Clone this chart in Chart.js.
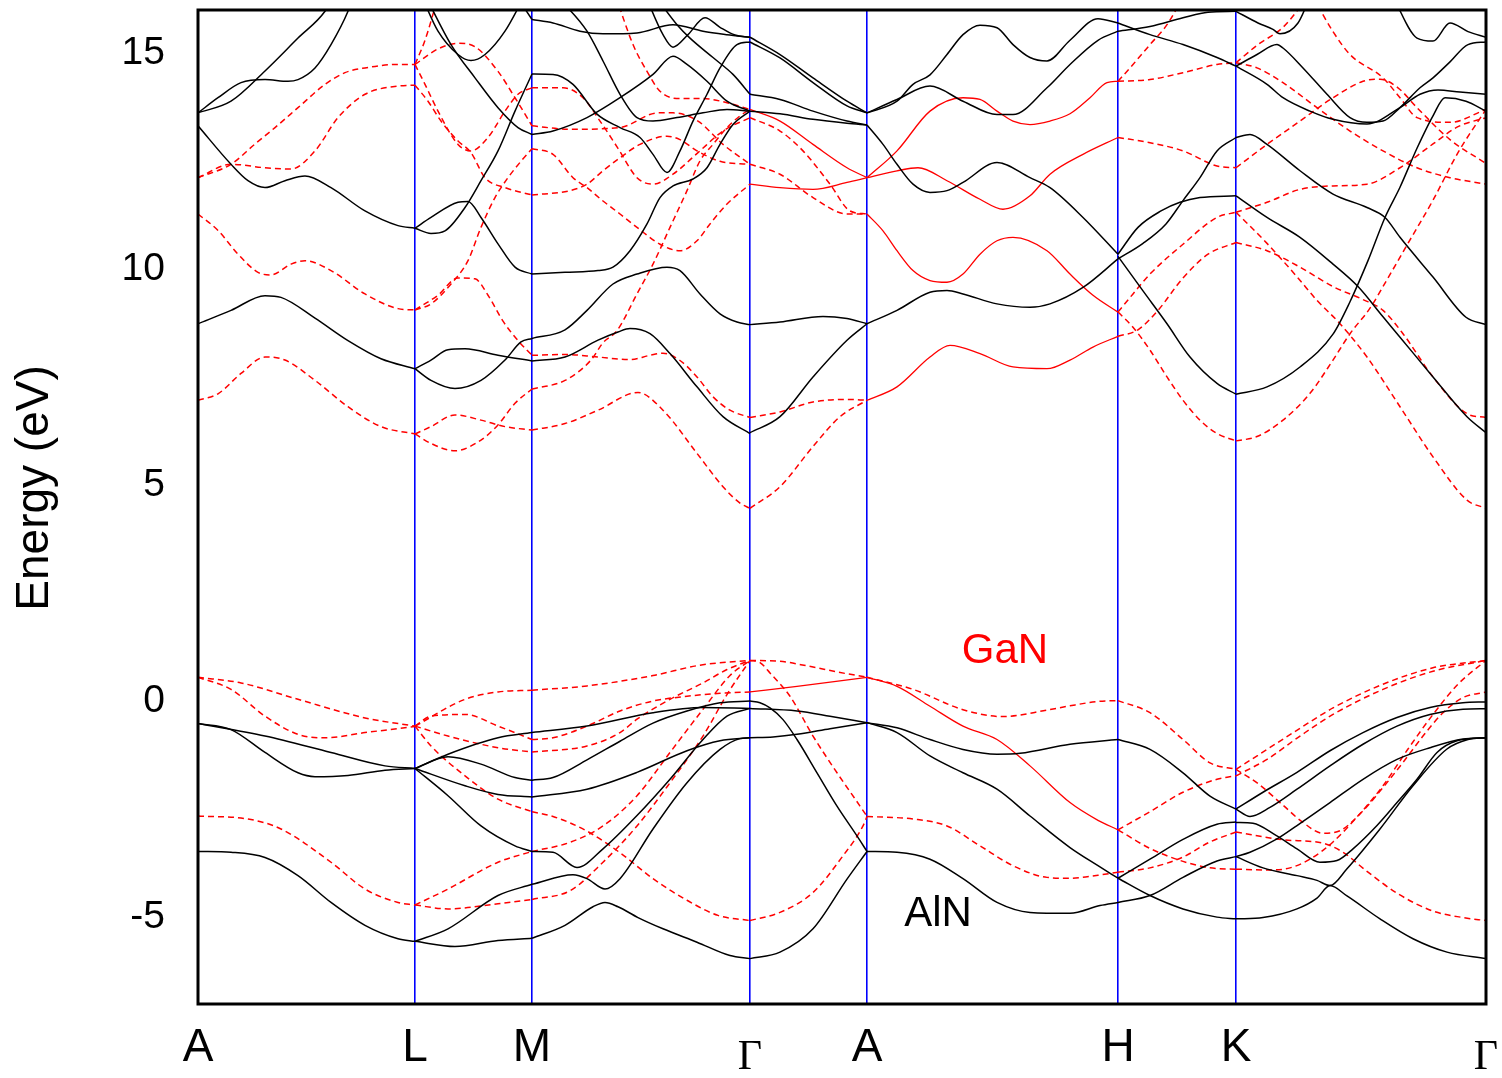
<!DOCTYPE html>
<html lang="en">
<head>
<meta charset="UTF-8" />
<title>AlN / GaN band structure</title>
<script src="https://cdn.jsdelivr.net/npm/chart.js"></script>
<style>
body { margin: 0; background: #fff; }
#wrap { width: 1502px; height: 1078px; }
</style>
</head>
<body>
<div id="wrap"><canvas id="bands" width="1502" height="1078"></canvas></div>

<script>
// k-path: high-symmetry points (path distance) and their labels
const kPos = [0, 217, 334, 552, 669, 920, 1038, 1288];
const kLabel = ['A', 'L', 'M', 'Γ', 'A', 'H', 'K', 'Γ'];
const energyTicks = [-5, 0, 5, 10, 15];

// material tags inside the plot
const tagText = ['GaN', 'AlN'];
const tagK = [807, 740];
const tagE = [1.15, -4.92];
const tagColor = ['#ff0000', '#000000'];

// AlN bands, [k, E(eV)] per segment
const alnAL = [
  [[0,-0.51],[67,-0.8],[133,-1.18],[187,-1.49],[217,-1.55]],
  [[0,-0.51],[33,-0.65],[67,-1.18],[100,-1.65],[117,-1.74],[150,-1.71],[187,-1.59],[217,-1.55]],
  [[0,-3.47],[33,-3.49],[67,-3.61],[100,-4.03],[133,-4.65],[167,-5.18],[200,-5.49],[217,-5.55]],
  [[0,8.74],[33,9.05],[67,9.39],[83,9.35],[117,8.87],[150,8.35],[183,7.93],[217,7.7]],
  [[0,13.32],[33,12.43],[50,12.05],[67,11.89],[87,12.05],[107,12.16],[133,11.89],[167,11.35],[200,11.01],[217,10.95]],
  [[0,13.62],[20,13.97],[43,14.32],[67,14.39],[90,14.35],[100,14.39],[117,14.66],[133,15.2],[150,15.97],[155,16.3]],
  [[0,13.62],[33,13.89],[67,14.59],[100,15.35],[127,15.97],[135,16.3]]
];
const alnLM = [
  [[217,-1.55],[250,-1.22],[300,-0.84],[334,-0.72]],
  [[217,-1.55],[250,-1.28],[283,-1.45],[317,-1.76],[334,-1.82]],
  [[217,-1.55],[267,-1.95],[300,-2.15],[334,-2.21]],
  [[217,-1.55],[250,-2.18],[283,-2.88],[317,-3.34],[334,-3.47]],
  [[217,-5.55],[257,-5.67],[300,-5.53],[334,-5.48]],
  [[217,-5.55],[250,-5.26],[300,-4.49],[334,-4.23]],
  [[217,7.7],[233,7.9],[250,8.14],[267,8.16],[300,8.01],[334,7.88]],
  [[217,7.7],[233,7.43],[257,7.24],[283,7.43],[307,7.9],[323,8.32],[334,8.4]],
  [[217,10.95],[233,11.2],[260,11.55],[270,11.57],[283,11.2],[300,10.59],[317,10.05],[334,9.89]],
  [[217,10.95],[233,10.83],[247,10.89],[267,11.43],[283,12.05],[300,12.74],[317,13.66],[334,14.52]],
  [[224,16.3],[240,15.51],[260,14.97],[273,14.83],[287,14.97],[307,15.51],[326,16.3]],
  [[228,16.3],[253,15.2],[277,14.43],[300,13.74],[320,13.28],[334,13.12]],
  [[322,16.2],[334,15.78]]
];
const alnMG = [
  [[334,-0.72],[389,-0.57],[455,-0.26],[505,-0.14],[552,-0.16]],
  [[334,-1.82],[355,-1.76],[389,-1.35],[422,-0.92],[455,-0.5],[489,-0.22],[522,-0.03],[552,0.01]],
  [[334,-2.21],[389,-2.03],[439,-1.64],[489,-1.14],[522,-0.91],[552,-0.84]],
  [[334,-3.47],[355,-3.49],[379,-3.84],[405,-3.41],[439,-2.64],[472,-1.8],[505,-0.88],[529,-0.34],[552,-0.16]],
  [[334,-4.23],[375,-4.01],[389,-4.1],[407,-4.34],[422,-4.1],[455,-2.95],[489,-1.88],[522,-1.11],[542,-0.86],[552,-0.84]],
  [[334,-5.48],[367,-5.18],[395,-4.75],[407,-4.65],[420,-4.75],[440,-5.0],[465,-5.26],[499,-5.57],[532,-5.88],[552,-5.95]],
  [[334,7.88],[367,7.97],[400,8.36],[420,8.55],[432,8.63],[452,8.51],[472,8.05],[499,7.28],[525,6.59],[552,6.2]],
  [[334,8.4],[367,8.6],[389,9.05],[415,9.66],[439,9.89],[469,10.05],[482,9.97],[502,9.43],[522,8.97],[539,8.78],[552,8.72]],
  [[334,9.89],[367,9.93],[400,9.97],[415,10.05],[432,10.43],[449,11.05],[462,11.66],[475,11.93],[495,12.09],[509,12.35],[522,12.89],[535,13.35],[552,13.66]],
  [[334,13.12],[355,13.2],[389,13.51],[422,13.97],[455,14.51],[475,14.93],[489,14.74],[509,14.35],[529,13.89],[552,13.66]],
  [[334,14.52],[355,14.51],[375,14.28],[399,13.59],[422,13.28],[442,13.05],[455,12.66],[469,12.24],[482,12.74],[495,13.43],[509,14.05],[522,14.66],[539,15.2],[552,15.26]],
  [[334,15.78],[355,15.7],[382,15.51],[405,15.45],[439,15.47],[475,15.66],[505,15.51],[529,15.43],[552,15.37]],
  [[360,16.3],[389,15.51],[405,14.82],[422,14.05],[439,13.51],[455,13.43],[479,13.51],[505,13.62],[529,13.7],[552,13.66]],
  [[448,16.3],[465,15.43],[475,15.14],[490,15.43],[507,15.82],[522,15.6],[537,15.42],[552,15.37]],
  [[458,16.3],[479,15.66],[492,15.35],[515,14.9],[535,14.51],[552,14.05]]
];
const alnGA = [
  [[552,0.01],[562,-0.03],[572,-0.15],[585,-0.42],[599,-0.88],[619,-1.65],[639,-2.42],[659,-3.11],[669,-3.47]],
  [[552,-0.16],[599,-0.22],[632,-0.34],[669,-0.49]],
  [[552,-0.84],[575,-0.82],[599,-0.76],[632,-0.63],[669,-0.49]],
  [[552,-5.95],[582,-5.8],[615,-5.26],[649,-4.11],[669,-3.47]],
  [[552,6.22],[582,6.59],[615,7.51],[649,8.36],[669,8.74]],
  [[552,8.72],[582,8.78],[625,8.91],[649,8.86],[669,8.74]],
  [[552,13.66],[582,13.6],[615,13.47],[649,13.38],[669,13.34]],
  [[552,14.05],[582,13.93],[615,13.66],[649,13.43],[669,13.34]],
  [[552,15.26],[582,14.89],[615,14.32],[649,13.78],[669,13.62]],
  [[552,15.37],[582,14.97],[615,14.43],[649,13.89],[669,13.62]]
];
const alnAH = [
  [[669,-0.49],[699,-0.61],[732,-0.88],[765,-1.11],[799,-1.22],[822,-1.2],[872,-0.99],[920,-0.88]],
  [[669,-0.49],[699,-0.72],[732,-1.26],[765,-1.65],[799,-2.03],[832,-2.65],[872,-3.38],[900,-3.8],[920,-4.09]],
  [[669,-3.47],[699,-3.49],[732,-3.65],[765,-4.1],[799,-4.65],[832,-4.88],[872,-4.9],[902,-4.72],[920,-4.65]],
  [[669,8.74],[699,9.05],[732,9.47],[749,9.51],[765,9.43],[799,9.2],[832,9.12],[852,9.2],[885,9.58],[920,10.24]],
  [[669,13.34],[685,12.89],[699,12.43],[715,11.97],[732,11.78],[749,11.82],[765,12.01],[799,12.47],[832,12.12],[852,11.89],[885,11.2],[920,10.35]],
  [[669,13.62],[699,13.93],[732,14.24],[765,13.89],[799,13.58],[815,13.58],[849,14.2],[872,14.74],[900,15.3],[920,15.51]],
  [[669,13.62],[699,13.89],[715,14.28],[732,14.5],[749,14.97],[765,15.43],[782,15.65],[799,15.59],[815,15.2],[832,14.9],[849,14.82],[872,15.3],[900,15.8],[920,15.7]]
];
const alnHK = [
  [[920,-0.88],[952,-1.11],[985,-1.65],[1012,-2.19],[1038,-2.49]],
  [[920,-4.09],[952,-3.65],[985,-3.19],[1019,-2.84],[1038,-2.79]],
  [[920,-4.09],[952,-4.49],[985,-4.8],[1019,-4.99],[1038,-5.03]],
  [[920,-4.65],[952,-4.49],[985,-4.07],[1019,-3.69],[1038,-3.59]],
  [[920,10.3],[945,9.5],[969,8.74],[992,7.97],[1019,7.36],[1038,7.11]],
  [[920,10.35],[940,10.97],[963,11.35],[982,11.55],[1002,11.66],[1038,11.7]],
  [[920,10.24],[945,10.6],[968,11.05],[985,11.59],[1002,12.12],[1019,12.74],[1038,13.05]],
  [[920,15.7],[952,15.43],[985,15.2],[1019,14.9],[1038,14.7]],
  [[920,15.51],[952,15.62],[985,15.82],[1010,15.95],[1038,15.97]]
];
const alnKG = [
  [[1038,-2.49],[1065,-2.1],[1099,-1.64],[1132,-1.14],[1165,-0.72],[1199,-0.37],[1232,-0.14],[1265,-0.03],[1288,-0.01]],
  [[1038,-2.49],[1052,-2.66],[1072,-2.45],[1099,-2.03],[1132,-1.49],[1165,-0.99],[1199,-0.57],[1232,-0.3],[1265,-0.18],[1288,-0.17]],
  [[1038,-2.8],[1055,-2.82],[1078,-3.1],[1099,-3.41],[1122,-3.72],[1139,-3.68],[1155,-3.41],[1179,-2.87],[1199,-2.34],[1219,-1.8],[1239,-1.18],[1259,-0.91],[1288,-0.84]],
  [[1038,-3.59],[1052,-3.49],[1079,-3.18],[1099,-2.87],[1132,-2.34],[1165,-1.8],[1199,-1.34],[1232,-1.07],[1265,-0.87],[1288,-0.84]],
  [[1038,-3.59],[1065,-3.85],[1099,-4.03],[1119,-4.14],[1132,-4.26],[1149,-3.87],[1182,-2.95],[1215,-1.95],[1249,-1.1],[1270,-0.88],[1288,-0.84]],
  [[1038,-5.03],[1065,-5.0],[1099,-4.8],[1119,-4.55],[1132,-4.26],[1149,-4.5],[1182,-5.03],[1215,-5.49],[1249,-5.8],[1288,-5.95]],
  [[1038,7.11],[1069,7.28],[1102,7.74],[1135,8.5],[1152,9.25],[1170,10.2],[1187,11.2],[1202,11.9],[1219,12.8],[1235,13.55],[1247,13.97],[1268,13.89],[1288,13.66]],
  [[1038,11.7],[1069,11.2],[1102,10.74],[1135,10.12],[1160,9.6],[1185,8.9],[1202,8.43],[1235,7.51],[1269,6.59],[1288,6.22]],
  [[1038,13.05],[1052,13.12],[1069,12.89],[1102,12.28],[1135,11.74],[1169,11.43],[1187,11.2],[1202,10.74],[1235,9.82],[1268,8.89],[1288,8.72]],
  [[1038,14.7],[1059,14.97],[1079,15.2],[1085,15.12],[1105,14.66],[1129,14.05],[1152,13.51],[1169,13.4],[1185,13.43],[1202,13.74],[1222,14.2],[1235,14.43],[1252,14.8],[1270,15.2],[1288,15.26]],
  [[1038,14.7],[1069,14.28],[1085,13.97],[1112,13.66],[1135,13.47],[1169,13.36],[1202,13.74],[1222,14.05],[1240,14.15],[1262,14.1],[1288,14.05]],
  [[1038,15.97],[1060,15.7],[1075,15.55],[1082,15.45],[1100,15.7],[1112,16.3]],
  [[1195,16.3],[1219,15.35],[1235,15.28],[1252,15.7],[1270,15.5],[1288,15.37]]
];

// GaN bands drawn dashed, per segment
const ganAL = [
  [[0,0.56],[43,0.43],[100,0.05],[167,-0.38],[217,-0.57]],
  [[0,0.56],[33,0.28],[67,-0.34],[100,-0.76],[127,-0.84],[167,-0.72],[217,-0.58]],
  [[0,-2.65],[50,-2.72],[83,-2.95],[133,-3.72],[167,-4.34],[200,-4.65],[217,-4.71]],
  [[0,6.97],[20,7.12],[43,7.59],[67,7.97],[87,7.9],[117,7.43],[150,6.82],[183,6.36],[217,6.19]],
  [[0,11.28],[20,10.9],[40,10.35],[60,9.93],[73,9.87],[93,10.12],[107,10.2],[133,9.97],[167,9.43],[200,9.09],[217,9.06]],
  [[0,12.12],[33,12.43],[57,12.9],[77,13.28],[100,13.74],[127,14.28],[147,14.55],[167,14.66],[200,14.74],[217,14.74]],
  [[0,12.12],[33,12.43],[67,12.35],[93,12.32],[117,12.74],[140,13.51],[167,14.05],[200,14.24],[217,14.26]]
];
const ganLM = [
  [[217,-0.57],[267,0.05],[300,0.22],[334,0.26]],
  [[217,-0.57],[233,-0.34],[267,-0.3],[300,-0.57],[334,-0.88]],
  [[217,-0.57],[250,-0.8],[300,-1.07],[334,-1.17]],
  [[217,-0.57],[233,-1.03],[267,-1.72],[300,-2.26],[334,-2.55]],
  [[217,-4.71],[250,-4.34],[300,-3.72],[334,-3.47]],
  [[217,-4.71],[250,-4.8],[300,-4.68],[334,-4.58]],
  [[217,6.19],[233,6.36],[257,6.63],[283,6.51],[307,6.36],[334,6.28]],
  [[217,6.19],[233,5.97],[257,5.8],[283,6.05],[300,6.4],[317,6.9],[334,7.23]],
  [[217,9.06],[240,9.4],[260,9.8],[277,9.78],[290,9.4],[305,8.8],[320,8.35],[334,8.01]],
  [[217,9.06],[233,9.2],[253,9.66],[270,10.2],[283,10.97],[297,11.66],[310,12.12],[323,12.5],[334,12.79]],
  [[217,14.26],[230,13.89],[243,13.43],[260,12.97],[273,12.7],[287,12.12],[307,11.89],[334,11.72]],
  [[217,14.74],[227,14.28],[240,13.66],[260,12.89],[273,12.74],[290,13.05],[307,13.66],[320,14.05],[334,14.2]],
  [[217,14.74],[240,15.1],[260,15.23],[277,15.15],[300,14.58],[317,13.97],[334,13.32]],
  [[217,14.74],[227,15.3],[240,16.3]]
];
const ganMG = [
  [[334,0.26],[389,0.36],[455,0.6],[502,0.84],[552,0.95]],
  [[334,-0.88],[355,-0.84],[389,-0.57],[422,-0.22],[455,0.01],[489,0.12],[522,0.19],[552,0.22]],
  [[334,-1.17],[389,-1.03],[422,-0.72],[439,-0.41],[472,0.05],[505,0.43],[529,0.74],[552,0.95]],
  [[334,-2.55],[355,-2.66],[389,-3.0],[422,-3.5],[455,-4.1],[489,-4.6],[520,-4.95],[552,-5.07]],
  [[334,-3.47],[372,-3.26],[405,-2.88],[439,-2.18],[472,-1.18],[505,-0.18],[532,0.6],[552,0.95]],
  [[334,-4.58],[372,-4.38],[405,-3.72],[439,-2.88],[472,-1.88],[505,-0.8],[530,0.2],[552,0.95]],
  [[334,6.28],[367,6.43],[400,6.74],[440,7.15],[465,6.74],[499,5.74],[525,4.97],[542,4.59],[552,4.47]],
  [[334,8.01],[367,8.03],[400,7.97],[432,7.91],[452,8.01],[465,8.06],[482,7.89],[499,7.51],[515,7.05],[532,6.74],[552,6.57]],
  [[334,7.23],[367,7.43],[393,7.9],[405,8.3],[419,8.58],[439,9.43],[455,10.12],[472,10.97],[489,11.82],[502,12.51],[515,12.89],[529,13.28],[542,13.55],[552,13.7]],
  [[334,12.79],[355,12.66],[375,12.12],[389,11.89],[405,11.58],[422,11.28],[439,10.97],[462,10.58],[482,10.43],[499,10.66],[512,11.05],[529,11.51],[552,11.97]],
  [[334,11.72],[372,11.82],[389,11.97],[405,12.28],[422,12.58],[442,12.89],[469,13.08],[482,13.0],[499,12.74],[522,12.5],[552,12.43]],
  [[334,13.32],[372,13.24],[422,13.28],[460,13.62],[475,13.62],[500,13.43],[525,12.89],[552,12.43]],
  [[334,14.2],[365,14.2],[385,13.97],[402,13.43],[420,12.8],[439,12.12],[455,11.97],[475,12.2],[500,12.7],[525,13.2],[552,13.51]],
  [[418,16.3],[435,15.2],[449,14.58],[462,14.12],[482,13.95],[505,13.95],[530,13.85],[552,13.7]]
];
const ganGA = [
  [[552,0.95],[582,0.93],[610,0.82],[640,0.68],[669,0.56]],
  [[552,0.95],[562,0.9],[572,0.66],[592,0.12],[615,-0.8],[639,-1.65],[662,-2.42],[669,-2.66]],
  [[552,-5.07],[582,-4.88],[615,-4.42],[645,-3.57],[665,-2.88],[669,-2.66]],
  [[552,4.47],[582,4.97],[615,5.9],[642,6.59],[669,6.97]],
  [[552,6.57],[582,6.7],[615,6.93],[649,6.99],[669,6.97]],
  [[552,12.43],[582,12.2],[615,11.66],[649,11.28],[669,11.28]],
  [[552,13.51],[582,13.2],[605,12.74],[632,11.97],[652,11.35],[669,11.28]]
];
const ganAH = [
  [[669,0.56],[715,0.28],[765,-0.19],[805,-0.35],[849,-0.2],[872,-0.1],[900,0.0],[920,0.02]],
  [[669,-2.66],[715,-2.72],[749,-2.88],[782,-3.34],[815,-3.8],[849,-4.07],[872,-4.09],[900,-4.02],[920,-3.95]]
];
const ganHK = [
  [[920,0.02],[952,-0.26],[985,-0.88],[1012,-1.42],[1038,-1.57]],
  [[920,-2.97],[952,-2.55],[985,-2.1],[1019,-1.8],[1038,-1.72]],
  [[920,-2.97],[952,-3.4],[985,-3.7],[1012,-3.85],[1038,-3.88]],
  [[920,-3.95],[952,-3.85],[985,-3.6],[1012,-3.25],[1038,-3.02]],
  [[920,8.45],[940,8.6],[960,9.05],[985,9.8],[1010,10.35],[1038,10.62]],
  [[920,9.01],[935,8.66],[952,8.13],[969,7.51],[985,6.97],[1002,6.51],[1019,6.2],[1038,6.03]],
  [[920,9.01],[935,9.43],[952,9.89],[985,10.58],[1019,11.2],[1038,11.32]],
  [[920,13.05],[952,12.93],[985,12.74],[1019,12.39],[1038,12.35]],
  [[920,14.35],[952,14.39],[985,14.55],[1019,14.74],[1038,14.78]],
  [[920,14.35],[935,14.74],[952,15.2],[969,15.66],[985,16.3]]
];
const ganKG = [
  [[1038,-1.57],[1069,-1.11],[1100,-0.65],[1135,-0.15],[1185,0.4],[1235,0.78],[1288,0.95]],
  [[1038,-1.72],[1069,-1.34],[1102,-0.8],[1135,-0.3],[1185,0.28],[1235,0.7],[1288,0.95]],
  [[1038,-1.57],[1060,-1.9],[1085,-2.4],[1105,-2.8],[1125,-3.05],[1142,-2.99],[1165,-2.53],[1185,-1.99],[1205,-1.41],[1225,-0.8],[1245,-0.26],[1265,0.09],[1288,0.22]],
  [[1038,-3.02],[1085,-3.2],[1125,-3.28],[1145,-3.49],[1170,-3.95],[1200,-4.45],[1235,-4.85],[1265,-5.0],[1288,-5.07]],
  [[1038,-3.88],[1070,-3.9],[1092,-3.85],[1112,-3.65],[1135,-3.25],[1158,-2.7],[1185,-1.95],[1210,-1.1],[1235,-0.3],[1260,0.4],[1288,0.95]],
  [[1038,6.03],[1059,6.13],[1085,6.51],[1112,7.13],[1135,7.9],[1152,8.51],[1172,9.1],[1190,9.8],[1210,10.6],[1235,11.6],[1260,12.7],[1288,13.7]],
  [[1038,10.62],[1069,10.43],[1102,10.05],[1135,9.6],[1165,9.3],[1185,9.05],[1205,8.51],[1235,7.51],[1269,6.66],[1288,6.57]],
  [[1038,11.32],[1069,10.6],[1100,9.8],[1119,9.28],[1142,8.74],[1169,7.97],[1202,6.82],[1235,5.66],[1269,4.66],[1288,4.47]],
  [[1038,11.32],[1069,11.55],[1102,11.85],[1135,11.93],[1169,11.97],[1202,12.35],[1235,12.9],[1260,13.3],[1288,13.51]],
  [[1038,12.35],[1069,12.89],[1102,13.43],[1135,13.97],[1165,14.35],[1182,14.4],[1200,14.2],[1219,13.74],[1252,13.0],[1288,12.45]],
  [[1038,14.78],[1059,14.66],[1085,14.32],[1119,13.74],[1152,13.2],[1185,12.74],[1219,12.35],[1252,12.12],[1288,11.97]],
  [[1038,14.78],[1060,15.2],[1085,15.6],[1110,16.3]],
  [[1115,16.3],[1135,15.5],[1152,14.97],[1185,14.43],[1202,13.97],[1219,13.51],[1252,13.4],[1288,13.7]]
];
// GaN bands that read as solid lines (degenerate pairs)
const ganSolid = [
  [[552,0.22],[599,0.35],[640,0.47],[669,0.56]],
  [[669,0.56],[699,0.35],[732,-0.11],[765,-0.57],[799,-0.88],[832,-1.49],[872,-2.34],[900,-2.75],[920,-2.97]],
  [[552,11.97],[582,11.89],[615,11.85],[649,12.01],[669,12.12]],
  [[552,13.7],[582,13.43],[615,12.89],[649,12.35],[669,12.12]],
  [[669,6.97],[699,7.28],[732,7.97],[752,8.24],[782,8.05],[815,7.74],[849,7.7],[872,7.9],[895,8.2],[920,8.45]],
  [[669,11.28],[685,10.89],[699,10.43],[715,9.97],[732,9.74],[749,9.7],[765,9.89],[782,10.35],[799,10.66],[815,10.74],[849,10.43],[872,9.89],[895,9.4],[920,9.01]],
  [[669,12.12],[699,12.28],[720,12.35],[749,12.05],[782,11.62],[805,11.39],[832,11.7],[852,12.2],[885,12.66],[920,13.05]],
  [[669,12.12],[699,12.74],[732,13.66],[765,13.97],[782,13.93],[799,13.66],[815,13.43],[832,13.35],[852,13.43],[872,13.6],[892,13.97],[909,14.32],[920,14.35]]
];

const SANS = '"Liberation Sans", Arial, sans-serif';
const SERIF = '"Liberation Serif", "Times New Roman", serif';

const alnStyle = { borderColor: '#000000', borderWidth: 1.5 };
const ganDashStyle = { borderColor: '#ff0000', borderWidth: 1.5, borderDash: [6, 4] };
const ganSolidStyle = { borderColor: '#ff0000', borderWidth: 1.3 };

const datasets = [];
function addCurves(curves, style) {
  curves.forEach(c => {
    datasets.push(Object.assign({
      data: c.map(([k, e]) => ({ x: k, y: e })),
      pointRadius: 0,
      fill: false,
      cubicInterpolationMode: 'monotone'
    }, style));
  });
}
[alnAL, alnLM, alnMG, alnGA, alnAH, alnHK, alnKG].forEach(s => addCurves(s, alnStyle));
[ganAL, ganLM, ganMG, ganGA, ganAH, ganHK, ganKG].forEach(s => addCurves(s, ganDashStyle));
addCurves(ganSolid, ganSolidStyle);

// thick frame, the rotated axis title and the two material tags
const frameAndTags = {
  id: 'frameAndTags',
  afterDatasetsDraw(chart) {
    const { ctx, chartArea: a, scales: { x, y } } = chart;
    ctx.save();
    ctx.strokeStyle = '#000';
    ctx.lineWidth = 3;
    ctx.strokeRect(a.left, a.top, a.right - a.left, a.bottom - a.top);

    ctx.textAlign = 'center';
    ctx.textBaseline = 'middle';
    ctx.font = '42px ' + SANS;
    tagText.forEach((t, i) => {
      ctx.fillStyle = tagColor[i];
      ctx.fillText(t, x.getPixelForValue(tagK[i]), y.getPixelForValue(tagE[i]));
    });

    ctx.fillStyle = '#000';
    ctx.font = '46px ' + SANS;
    ctx.translate(35, 488);
    ctx.rotate(-Math.PI / 2);
    ctx.fillText('Energy (eV)', 0, 0);
    ctx.restore();
  }
};

new Chart(document.getElementById('bands').getContext('2d'), {
  type: 'line',
  data: { datasets },
  plugins: [frameAndTags],
  options: {
    responsive: false,
    animation: false,
    devicePixelRatio: 1,
    layout: { padding: { top: 10, right: 16, left: 0, bottom: 0 } },
    plugins: { legend: { display: false }, tooltip: { enabled: false } },
    scales: {
      x: {
        type: 'linear',
        min: 0,
        max: 1288,
        afterBuildTicks: s => { s.ticks = kPos.map(v => ({ value: v })); },
        afterFit: s => { s.height = 74; s.paddingLeft = 0; s.paddingRight = 0; },
        border: { display: false },
        grid: {
          drawTicks: false,
          lineWidth: 1.6,
          color: c => (c.index > 0 && c.index < kPos.length - 1) ? '#0000ff' : 'rgba(0,0,0,0)'
        },
        ticks: {
          autoSkip: false,
          maxRotation: 0,
          padding: 17,
          color: '#000',
          callback: (v, i) => kLabel[i],
          font: c => kLabel[c.index] === 'Γ'
            ? { family: SERIF, size: 42, lineHeight: 1.75 }
            : { family: SANS, size: 46 }
        }
      },
      y: {
        min: -7,
        max: 16,
        afterBuildTicks: s => { s.ticks = energyTicks.map(v => ({ value: v })); },
        afterFit: s => { s.width = 198; s.paddingTop = 0; s.paddingBottom = 0; },
        border: { display: false },
        grid: { display: false, drawTicks: false },
        ticks: { padding: 33, color: '#000', font: { family: SANS, size: 39 } }
      }
    }
  }
});
</script>
</body>
</html>
